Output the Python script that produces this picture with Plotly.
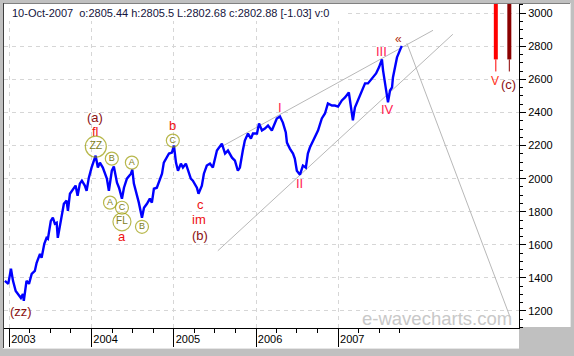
import plotly.graph_objects as go

FONT = "Liberation Sans, Arial, sans-serif"

# ---------------- price series ----------------
dates = [
    "2002-12-12", "2002-12-27", "2003-01-08", "2003-01-17", "2003-01-29", "2003-02-08",
    "2003-02-21", "2003-03-02", "2003-03-06", "2003-03-18", "2003-03-29", "2003-04-10",
    "2003-04-24", "2003-05-02", "2003-05-17", "2003-05-24", "2003-06-05", "2003-06-15",
    "2003-06-21", "2003-07-04", "2003-07-13", "2003-07-22", "2003-07-30", "2003-08-04",
    "2003-08-13", "2003-08-21", "2003-08-31", "2003-09-12", "2003-09-18", "2003-09-27",
    "2003-10-10", "2003-10-22", "2003-10-31", "2003-11-10", "2003-11-19", "2003-12-02",
    "2003-12-10", "2003-12-20", "2004-01-01", "2004-01-11", "2004-01-19", "2004-01-29",
    "2004-02-07", "2004-02-20", "2004-03-09", "2004-03-18", "2004-03-31", "2004-04-09",
    "2004-04-23", "2004-05-02", "2004-05-15", "2004-05-24", "2004-06-06", "2004-06-24",
    "2004-06-30", "2004-07-07", "2004-07-20", "2004-07-29", "2004-08-12", "2004-08-21",
    "2004-09-03", "2004-09-16", "2004-09-25", "2004-10-04", "2004-10-17", "2004-10-26",
    "2004-11-09", "2004-11-17", "2004-12-01", "2004-12-10", "2004-12-23", "2005-01-01",
    "2005-01-10", "2005-01-19", "2005-02-01", "2005-02-10", "2005-02-23", "2005-03-04",
    "2005-03-17", "2005-03-26", "2005-04-13", "2005-04-20", "2005-05-05", "2005-05-14",
    "2005-05-27", "2005-06-10", "2005-06-23", "2005-07-11", "2005-07-20", "2005-08-02",
    "2005-08-16", "2005-08-29", "2005-09-16", "2005-09-29", "2005-10-12", "2005-10-21",
    "2005-11-03", "2005-11-12", "2005-11-26", "2005-12-09", "2005-12-18", "2006-01-05",
    "2006-01-14", "2006-01-27", "2006-02-09", "2006-02-23", "2006-03-12", "2006-03-26",
    "2006-04-03", "2006-04-17", "2006-04-30", "2006-05-13", "2006-05-18", "2006-05-31",
    "2006-06-14", "2006-06-22", "2006-07-01", "2006-07-15", "2006-07-28", "2006-08-10",
    "2006-08-19", "2006-08-28", "2006-09-11", "2006-09-19", "2006-10-03", "2006-10-20",
    "2006-11-03", "2006-11-16", "2006-12-04", "2006-12-17", "2006-12-31", "2007-01-17",
    "2007-01-31", "2007-02-17", "2007-02-26", "2007-03-07", "2007-03-16", "2007-03-30",
    "2007-04-16", "2007-04-30", "2007-05-13", "2007-05-31", "2007-06-18", "2007-07-01",
    "2007-07-14", "2007-07-19", "2007-07-28", "2007-08-06", "2007-08-10", "2007-08-19",
    "2007-08-28", "2007-09-01", "2007-09-10", "2007-09-19", "2007-10-10",
]
values = [
    1382, 1364, 1455, 1382, 1321, 1303,
    1279, 1303, 1261, 1382, 1364, 1424,
    1442, 1491, 1545, 1521, 1606, 1642,
    1636, 1745, 1764, 1727, 1733, 1642,
    1703, 1764, 1848, 1867, 1806, 1909,
    1939, 1958, 1897, 1970, 1988, 1958,
    1927, 2006, 2067, 2109, 2139, 2067,
    2097, 2067, 2000, 1927, 2048, 2073,
    1976, 1945, 1879, 1945, 2000, 2030,
    2055, 1970, 1909, 1855, 1764, 1824,
    1848, 1879, 1855, 1939, 1945, 1976,
    2030, 2097, 2127, 2152, 2158, 2200,
    2097, 2048, 2091, 2067, 2091, 2048,
    2000, 1988, 1945, 1909, 1958, 2030,
    2079, 2091, 2067, 2170, 2188, 2212,
    2152, 2170, 2127, 2109, 2048, 2067,
    2170, 2230, 2273, 2242, 2273, 2273,
    2333, 2291, 2303, 2321, 2291, 2339,
    2364, 2376, 2339, 2279, 2218, 2182,
    2152, 2121, 2048, 2024, 2079, 2067,
    2152, 2188, 2230, 2248, 2291, 2364,
    2394, 2455, 2442, 2442, 2436, 2473,
    2491, 2521, 2424, 2352, 2430, 2473,
    2533, 2576, 2576, 2606, 2636, 2673,
    2721, 2655, 2576, 2515, 2461, 2533,
    2552, 2612, 2673, 2733, 2803,
]

# ---------------- trend / channel lines ----------------
upper_dates = ["2005-07-24", "2008-02-26"]
upper_values = [2188, 2897]
lower_dates = ["2005-07-15", "2008-05-24"]
lower_values = [1564, 2873]
proj_dates = ["2007-11-02", "2009-02-02"]
proj_values = [2818, 1164]

# ---------------- target bars ----------------
target_dates = ["2008-12-01", "2009-01-30"]
target_top = [3200, 3200]
target_mid = [2721, 2721]
target_low = [2648, 2648]
target_colors = ["#ff0000", "#8b0000"]

# ---------------- circled sub-wave labels ----------------
circle_labels = ["ZZ", "B", "A", "A", "C", "FL", "B", "C"]
circle_dates = ["2004-01-20", "2004-03-31", "2004-06-28", "2004-03-23",
                "2004-05-15", "2004-05-15", "2004-08-12", "2004-12-27"]
circle_values = [2194, 2121, 2097, 1855, 1824, 1739, 1709, 2230]
circle_sizes = [21, 13, 13, 13, 13, 18, 13, 13]
circle_fonts = [10.5, 9, 9, 9, 9, 10, 9, 9]

# ---------------- wave labels ----------------
wave_labels = ["(zz)", "(a)", "fl", "a", "b", "c", "im", "(b)",
               "I", "II", "III", "IV", "«", "V", "(c)"]
wave_dates = ["2003-02-21", "2004-01-16", "2004-01-20", "2004-05-15", "2004-12-27",
              "2005-04-27", "2005-04-22", "2005-04-27", "2006-04-17", "2006-07-15",
              "2007-07-14", "2007-08-07", "2007-09-26", "2008-11-29", "2009-01-26"]
wave_values = [1194, 2370, 2285, 1648, 2321, 1842, 1752, 1655,
               2430, 1970, 2770, 2418, 2842, 2588, 2570]
wave_colors = ["#8b1010", "#8b1010", "#ee1010", "#ee1010", "#ee1010", "#ee1010", "#ee1010",
               "#8b1010", "#ff2050", "#ff2050", "#ff2050", "#ff2050", "#b03010",
               "#ff3020", "#8b1010"]
wave_sizes = [13, 13, 13, 13, 13, 13, 13, 13, 13, 13, 13, 13, 12, 12, 13]

# ---------------- axes ticks ----------------
year_ticks = ["2003-01-01", "2004-01-01", "2005-01-01", "2006-01-01", "2007-01-01"]
year_labels = ["2003", "2004", "2005", "2006", "2007"]
quarter_ticks = [f"{y}-{m:02d}-01" for y in range(2003, 2008) for m in (1, 4, 7, 10)]

header = "10-Oct-2007  o:2805.44 h:2805.5 L:2802.68 c:2802.88 [-1.03] v:0"
watermark = "e-wavecharts.com"

# ---------------- layout helpers (pixel -> paper) ----------------
W, H = 574, 356
PL, PR, PT, PB = 4, 519, 4, 328


def px_x(p):
    return (p - PL) / (PR - PL)


def px_y(p):
    return (PB - p) / (PB - PT)


fig = go.Figure()

# channel lines
for xs, ys in [(upper_dates, upper_values), (lower_dates, lower_values), (proj_dates, proj_values)]:
    fig.add_trace(go.Scatter(x=xs, y=ys, mode="lines",
                             line=dict(color="#b8b8b8", width=1), hoverinfo="skip"))

# price
fig.add_trace(go.Scatter(x=dates, y=values, mode="lines",
                         line=dict(color="#0000ff", width=2.4), hoverinfo="skip"))

# target bars
for d, top, mid, low, c in zip(target_dates, target_top, target_mid, target_low, target_colors):
    fig.add_trace(go.Scatter(x=[d, d], y=[top, mid], mode="lines",
                             line=dict(color=c, width=4), hoverinfo="skip"))
    fig.add_trace(go.Scatter(x=[d, d], y=[mid, low], mode="lines",
                             line=dict(color=c, width=1), hoverinfo="skip"))

# circled labels
fig.add_trace(go.Scatter(
    x=circle_dates, y=circle_values, mode="markers+text", text=circle_labels,
    textposition="middle center",
    marker=dict(symbol="circle-open", size=circle_sizes, color="#9a9a00",
                line=dict(width=1.2, color="#9a9a00")),
    textfont=dict(size=circle_fonts, color="#7d7d20", family=FONT),
    hoverinfo="skip"))

annotations = []
for t, d, v, c, s in zip(wave_labels, wave_dates, wave_values, wave_colors, wave_sizes):
    annotations.append(dict(x=d, y=v, xref="x", yref="y", text=t, showarrow=False,
                            font=dict(family=FONT, size=s, color=c),
                            xanchor="center", yanchor="middle"))

annotations.append(dict(x=px_x(10), y=px_y(12.5), xref="paper", yref="paper", text=header,
                        showarrow=False, xanchor="left", yanchor="middle",
                        font=dict(family=FONT, size=11, color="#14143c")))
annotations.append(dict(x=px_x(437), y=px_y(318.5), xref="paper", yref="paper", text=watermark,
                        showarrow=False, xanchor="center", yanchor="middle",
                        font=dict(family=FONT, size=18.5, color="#c8c8c8")))

shapes = [
    # white panels
    dict(type="rect", xref="paper", yref="paper", x0=px_x(4), x1=px_x(519), y0=px_y(348), y1=px_y(4),
         fillcolor="white", line=dict(width=0), layer="below"),
    dict(type="rect", xref="paper", yref="paper", x0=px_x(519), x1=px_x(570), y0=px_y(327), y1=px_y(4),
         fillcolor="white", line=dict(width=0), layer="below"),
    # sunken border
    dict(type="line", xref="paper", yref="paper", x0=px_x(3), x1=px_x(570), y0=px_y(3.5), y1=px_y(3.5),
         line=dict(color="#808080", width=1), layer="below"),
    dict(type="line", xref="paper", yref="paper", x0=px_x(3.5), x1=px_x(3.5), y0=px_y(3), y1=px_y(348),
         line=dict(color="#404040", width=1), layer="below"),
    dict(type="line", xref="paper", yref="paper", x0=px_x(3), x1=px_x(519), y0=px_y(348.5), y1=px_y(348.5),
         line=dict(color="#e6e6e6", width=1), layer="below"),
    dict(type="line", xref="paper", yref="paper", x0=px_x(570.5), x1=px_x(570.5), y0=px_y(3), y1=px_y(327),
         line=dict(color="#e6e6e6", width=1), layer="below"),
    # header background box (hides grid under header text)
    dict(type="rect", xref="paper", yref="paper", x0=px_x(4), x1=px_x(346), y0=px_y(21), y1=px_y(4),
         fillcolor="white", line=dict(width=0), layer="above"),
]

grid = dict(showgrid=True, gridcolor="#d6d6d6", griddash="4px,4px", gridwidth=1)

fig.update_layout(
    width=W, height=H,
    margin=dict(l=PL, r=W - PR, t=PT, b=H - PB, pad=0),
    paper_bgcolor="#c0c0c0", plot_bgcolor="white",
    showlegend=False,
    annotations=annotations, shapes=shapes,
    xaxis=dict(type="date", range=["2002-12-08", "2009-03-14"],
               tickmode="array", tickvals=year_ticks, ticktext=year_labels,
               ticks="outside", ticklen=18, tickwidth=1, tickcolor="black",
               showline=True, linecolor="black", linewidth=1, zeroline=False,
               tickfont=dict(family=FONT, size=11, color="black"),
               ticklabelshift=14, ticklabelstandoff=-17,
               minor=dict(tickmode="array", tickvals=quarter_ticks, ticks="outside",
                          ticklen=4, tickwidth=1, tickcolor="black", showgrid=False),
               **grid),
    yaxis=dict(side="right", range=[1097, 3056], tick0=0, dtick=200,
               ticks="outside", ticklen=6, tickwidth=1, tickcolor="black",
               showline=True, linecolor="black", linewidth=1, zeroline=False,
               tickfont=dict(family=FONT, size=11, color="black"),
               minor=dict(tick0=0, dtick=50, ticks="outside", ticklen=3, tickwidth=1,
                          tickcolor="black", showgrid=False),
               **grid),
)

fig.write_html("out.html")
